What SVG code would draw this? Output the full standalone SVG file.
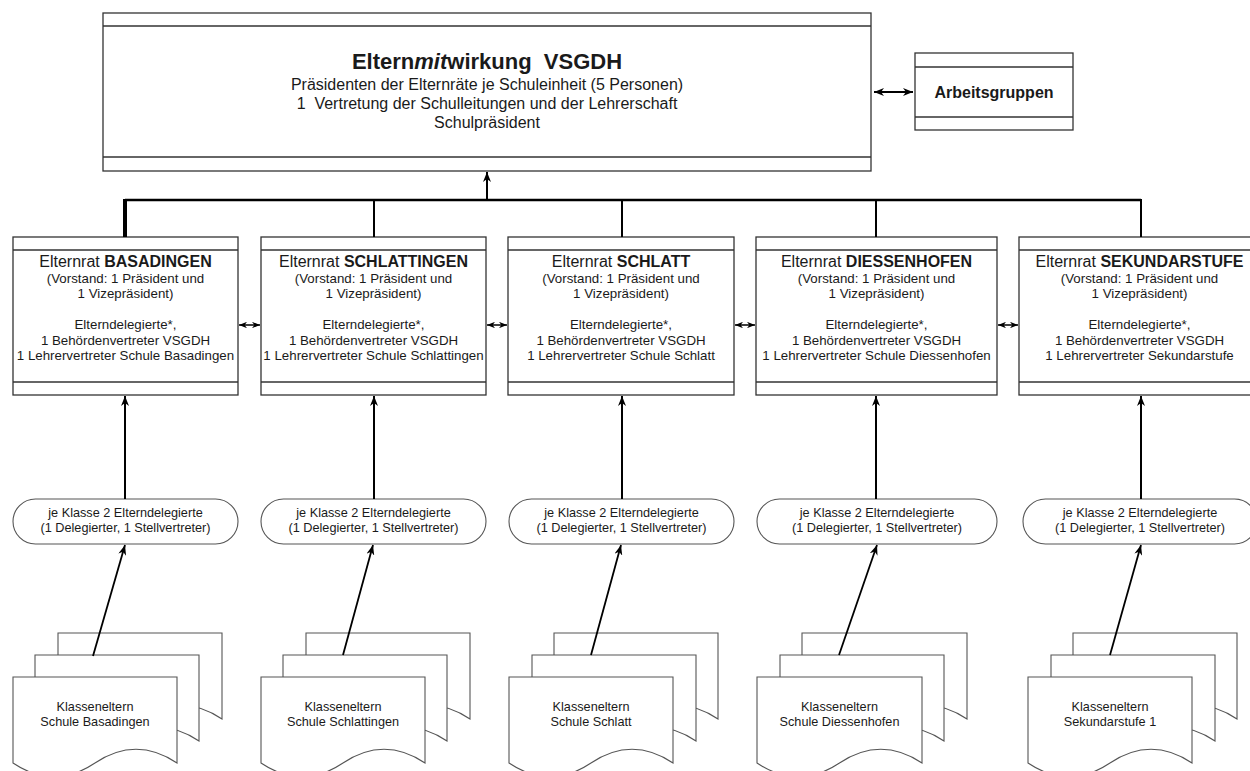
<svg xmlns="http://www.w3.org/2000/svg" width="1250" height="771" viewBox="0 0 1250 771">
<style>
text{font-family:"Liberation Sans",Arial,sans-serif;fill:#1a1a1a}
.box{fill:#fff;stroke:#333;stroke-width:1.3}
.sep{stroke:#333;stroke-width:1.3}
.oval{fill:#fff;stroke:#555;stroke-width:1.1}
.doc{fill:#fff;stroke:#555;stroke-width:1.1}
.t13{font-size:13.3px;text-anchor:middle}
.t16{font-size:16px;text-anchor:middle}
.hd{font-size:16px;text-anchor:middle}
.sm{font-size:12.7px;text-anchor:middle}
.b{font-weight:bold}
.con{stroke:#000;fill:none}
</style>
<defs>
<marker id="ah" viewBox="0 0 10 8" refX="10" refY="4" markerWidth="10" markerHeight="8" markerUnits="userSpaceOnUse" orient="auto-start-reverse">
<path d="M0,0 L10,4 L0,8 L3,4 Z" fill="#000"/>
</marker>
<marker id="ahs" viewBox="0 0 10 8" refX="10" refY="4" markerWidth="8" markerHeight="6.5" markerUnits="userSpaceOnUse" orient="auto-start-reverse">
<path d="M0,0 L10,4 L0,8 L3,4 Z" fill="#000"/>
</marker>
</defs>
<rect width="1250" height="771" fill="#fff"/>

<g id="top">
<rect class="box" x="103" y="13" width="768" height="158"/>
<line class="sep" x1="103" y1="26" x2="871" y2="26"/>
<line class="sep" x1="103" y1="157" x2="871" y2="157"/>
<text x="487" y="69" font-size="22" font-weight="bold" text-anchor="middle" xml:space="preserve">Eltern<tspan font-style="italic">mit</tspan>wirkung  VSGDH</text>
<text class="t16" x="487" y="90">Präsidenten der Elternräte je Schuleinheit (5 Personen)</text>
<text class="t16" x="487" y="109" xml:space="preserve">1  Vertretung der Schulleitungen und der Lehrerschaft</text>
<text class="t16" x="487" y="128">Schulpräsident</text>
</g>

<g id="arbeitsgruppen">
<rect class="box" x="915" y="53" width="158" height="77"/>
<line class="sep" x1="915" y1="67" x2="1073" y2="67"/>
<line class="sep" x1="915" y1="117" x2="1073" y2="117"/>
<text x="994" y="97.5" font-size="16" font-weight="bold" text-anchor="middle">Arbeitsgruppen</text>
</g>

<g id="er1">
<rect class="box" x="13" y="237" width="225" height="158"/>
<line class="sep" x1="13" y1="250" x2="238" y2="250"/>
<line class="sep" x1="13" y1="382" x2="238" y2="382"/>
<text class="hd" x="125.5" y="267">Elternrat <tspan class="b">BASADINGEN</tspan></text>
<text class="t13" x="125.5" y="282.5">(Vorstand: 1 Präsident und</text>
<text class="t13" x="125.5" y="298">1 Vizepräsident)</text>
<text class="t13" x="125.5" y="329">Elterndelegierte*,</text>
<text class="t13" x="125.5" y="344.5">1 Behördenvertreter VSGDH</text>
<text class="t13" x="125.5" y="360">1 Lehrervertreter Schule Basadingen</text>
</g>
<g id="er2">
<rect class="box" x="261" y="237" width="225" height="158"/>
<line class="sep" x1="261" y1="250" x2="486" y2="250"/>
<line class="sep" x1="261" y1="382" x2="486" y2="382"/>
<text class="hd" x="373.5" y="267">Elternrat <tspan class="b">SCHLATTINGEN</tspan></text>
<text class="t13" x="373.5" y="282.5">(Vorstand: 1 Präsident und</text>
<text class="t13" x="373.5" y="298">1 Vizepräsident)</text>
<text class="t13" x="373.5" y="329">Elterndelegierte*,</text>
<text class="t13" x="373.5" y="344.5">1 Behördenvertreter VSGDH</text>
<text class="t13" x="373.5" y="360">1 Lehrervertreter Schule Schlattingen</text>
</g>
<g id="er3">
<rect class="box" x="508" y="237" width="226" height="158"/>
<line class="sep" x1="508" y1="250" x2="734" y2="250"/>
<line class="sep" x1="508" y1="382" x2="734" y2="382"/>
<text class="hd" x="621" y="267">Elternrat <tspan class="b">SCHLATT</tspan></text>
<text class="t13" x="621" y="282.5">(Vorstand: 1 Präsident und</text>
<text class="t13" x="621" y="298">1 Vizepräsident)</text>
<text class="t13" x="621" y="329">Elterndelegierte*,</text>
<text class="t13" x="621" y="344.5">1 Behördenvertreter VSGDH</text>
<text class="t13" x="621" y="360">1 Lehrervertreter Schule Schlatt</text>
</g>
<g id="er4">
<rect class="box" x="756" y="237" width="241" height="158"/>
<line class="sep" x1="756" y1="250" x2="997" y2="250"/>
<line class="sep" x1="756" y1="382" x2="997" y2="382"/>
<text class="hd" x="876.5" y="267">Elternrat <tspan class="b">DIESSENHOFEN</tspan></text>
<text class="t13" x="876.5" y="282.5">(Vorstand: 1 Präsident und</text>
<text class="t13" x="876.5" y="298">1 Vizepräsident)</text>
<text class="t13" x="876.5" y="329">Elterndelegierte*,</text>
<text class="t13" x="876.5" y="344.5">1 Behördenvertreter VSGDH</text>
<text class="t13" x="876.5" y="360">1 Lehrervertreter Schule Diessenhofen</text>
</g>
<g id="er5">
<rect class="box" x="1019" y="237" width="241" height="158"/>
<line class="sep" x1="1019" y1="250" x2="1260" y2="250"/>
<line class="sep" x1="1019" y1="382" x2="1260" y2="382"/>
<text class="hd" x="1139.5" y="267">Elternrat <tspan class="b">SEKUNDARSTUFE</tspan></text>
<text class="t13" x="1139.5" y="282.5">(Vorstand: 1 Präsident und</text>
<text class="t13" x="1139.5" y="298">1 Vizepräsident)</text>
<text class="t13" x="1139.5" y="329">Elterndelegierte*,</text>
<text class="t13" x="1139.5" y="344.5">1 Behördenvertreter VSGDH</text>
<text class="t13" x="1139.5" y="360">1 Lehrervertreter Sekundarstufe</text>
</g>

<g id="del1">
<rect class="oval" x="13" y="499" width="225" height="45" rx="22.5"/>
<text class="sm" x="125.5" y="517">je Klasse 2 Elterndelegierte</text>
<text class="sm" x="125.5" y="532">(1 Delegierter, 1 Stellvertreter)</text>
</g>
<g id="del2">
<rect class="oval" x="261" y="499" width="225" height="45" rx="22.5"/>
<text class="sm" x="373.5" y="517">je Klasse 2 Elterndelegierte</text>
<text class="sm" x="373.5" y="532">(1 Delegierter, 1 Stellvertreter)</text>
</g>
<g id="del3">
<rect class="oval" x="509" y="499" width="225" height="45" rx="22.5"/>
<text class="sm" x="621.5" y="517">je Klasse 2 Elterndelegierte</text>
<text class="sm" x="621.5" y="532">(1 Delegierter, 1 Stellvertreter)</text>
</g>
<g id="del4">
<rect class="oval" x="757" y="499" width="240" height="45" rx="22.5"/>
<text class="sm" x="877" y="517">je Klasse 2 Elterndelegierte</text>
<text class="sm" x="877" y="532">(1 Delegierter, 1 Stellvertreter)</text>
</g>
<g id="del5">
<rect class="oval" x="1023" y="499" width="234" height="45" rx="22.5"/>
<text class="sm" x="1140" y="517">je Klasse 2 Elterndelegierte</text>
<text class="sm" x="1140" y="532">(1 Delegierter, 1 Stellvertreter)</text>
</g>

<g id="docs1">
<path class="doc" d="M58,633 H222 V719 Q181,691.6 140,719 Q99,746.4 58,719 Z"/>
<path class="doc" d="M35,655 H199 V741 Q158,713.6 117,741 Q76,768.4 35,741 Z"/>
<path class="doc" d="M13,677 H177 V763 Q136,735.6 95,763 Q54,790.4 13,763 Z"/>
<text class="sm" x="95" y="711">Klasseneltern</text>
<text class="sm" x="95" y="726">Schule Basadingen</text>
</g>
<g id="docs2">
<path class="doc" d="M306,633 H470 V719 Q429,691.6 388,719 Q347,746.4 306,719 Z"/>
<path class="doc" d="M283,655 H447 V741 Q406,713.6 365,741 Q324,768.4 283,741 Z"/>
<path class="doc" d="M261,677 H425 V763 Q384,735.6 343,763 Q302,790.4 261,763 Z"/>
<text class="sm" x="343" y="711">Klasseneltern</text>
<text class="sm" x="343" y="726">Schule Schlattingen</text>
</g>
<g id="docs3">
<path class="doc" d="M554,633 H718 V719 Q677,691.6 636,719 Q595,746.4 554,719 Z"/>
<path class="doc" d="M532,655 H696 V741 Q655,713.6 614,741 Q573,768.4 532,741 Z"/>
<path class="doc" d="M509,677 H673 V763 Q632,735.6 591,763 Q550,790.4 509,763 Z"/>
<text class="sm" x="591" y="711">Klasseneltern</text>
<text class="sm" x="591" y="726">Schule Schlatt</text>
</g>
<g id="docs4">
<path class="doc" d="M802,633 H967 V719 Q925.75,691.6 884.5,719 Q843.25,746.4 802,719 Z"/>
<path class="doc" d="M780,655 H944 V741 Q903,713.6 862,741 Q821,768.4 780,741 Z"/>
<path class="doc" d="M757,677 H922 V763 Q880.75,735.6 839.5,763 Q798.25,790.4 757,763 Z"/>
<text class="sm" x="839.5" y="711">Klasseneltern</text>
<text class="sm" x="839.5" y="726">Schule Diessenhofen</text>
</g>
<g id="docs5">
<path class="doc" d="M1073,633 H1237 V719 Q1196,691.6 1155,719 Q1114,746.4 1073,719 Z"/>
<path class="doc" d="M1051,655 H1215 V741 Q1174,713.6 1133,741 Q1092,768.4 1051,741 Z"/>
<path class="doc" d="M1028,677 H1192 V763 Q1151,735.6 1110,763 Q1069,790.4 1028,763 Z"/>
<text class="sm" x="1110" y="711">Klasseneltern</text>
<text class="sm" x="1110" y="726">Sekundarstufe 1</text>
</g>

<g id="connectors" class="con">
<line x1="125" y1="200" x2="1141" y2="200" stroke-width="2.5"/>
<line x1="125" y1="199" x2="125" y2="237" stroke-width="4"/>
<line x1="374" y1="200" x2="374" y2="237" stroke-width="2"/>
<line x1="622" y1="200" x2="622" y2="237" stroke-width="2"/>
<line x1="876" y1="200" x2="876" y2="237" stroke-width="2"/>
<line x1="1141" y1="199" x2="1141" y2="237" stroke-width="2"/>
<line x1="487" y1="200" x2="487" y2="172" stroke-width="2" marker-end="url(#ah)"/>
<line x1="874" y1="92" x2="913" y2="92" stroke-width="2" marker-start="url(#ah)" marker-end="url(#ah)"/>
<line x1="239" y1="325" x2="260" y2="325" stroke-width="1.5" marker-start="url(#ahs)" marker-end="url(#ahs)"/>
<line x1="487" y1="325" x2="507" y2="325" stroke-width="1.5" marker-start="url(#ahs)" marker-end="url(#ahs)"/>
<line x1="735" y1="325" x2="755" y2="325" stroke-width="1.5" marker-start="url(#ahs)" marker-end="url(#ahs)"/>
<line x1="998" y1="325" x2="1018" y2="325" stroke-width="1.5" marker-start="url(#ahs)" marker-end="url(#ahs)"/>
<line x1="125" y1="499" x2="125" y2="396" stroke-width="2" marker-end="url(#ah)"/>
<line x1="374" y1="499" x2="374" y2="396" stroke-width="2" marker-end="url(#ah)"/>
<line x1="622" y1="499" x2="622" y2="396" stroke-width="2" marker-end="url(#ah)"/>
<line x1="876" y1="499" x2="876" y2="396" stroke-width="2" marker-end="url(#ah)"/>
<line x1="1141" y1="499" x2="1141" y2="396" stroke-width="2" marker-end="url(#ah)"/>
<line x1="93" y1="656" x2="125" y2="545" stroke-width="1.8" marker-end="url(#ah)"/>
<line x1="343" y1="655" x2="373" y2="545" stroke-width="1.8" marker-end="url(#ah)"/>
<line x1="591" y1="655" x2="621" y2="545" stroke-width="1.8" marker-end="url(#ah)"/>
<line x1="839" y1="655" x2="877" y2="545" stroke-width="1.8" marker-end="url(#ah)"/>
<line x1="1110" y1="655" x2="1141" y2="545" stroke-width="1.8" marker-end="url(#ah)"/>
</g>
</svg>
